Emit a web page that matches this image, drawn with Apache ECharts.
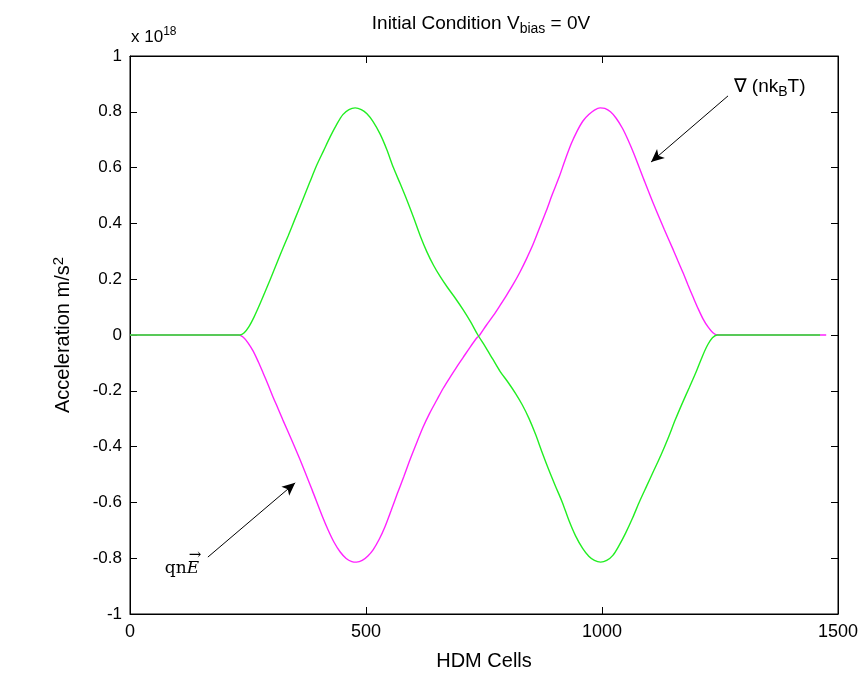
<!DOCTYPE html>
<html>
<head>
<meta charset="utf-8">
<script src="https://cdn.jsdelivr.net/npm/echarts@6/dist/echarts.min.js"></script>
<style>
  html, body { margin: 0; padding: 0; background: #ffffff; }
  #chart { width: 868px; height: 677px; }
</style>
</head>
<body>
<div id="chart"></div>
<script>
// Electric-field term qnE along the device (units of 1e18 m/s^2)
const fieldTerm = [
  [0,0],[100,0],[200,0],[233,0],[242,0.008],[252,0.03],[263,0.065],[275,0.11],
  [290,0.17],[305,0.232],[320,0.295],[335,0.355],[350,0.418],[365,0.48],[381,0.548],
  [396,0.61],[410,0.66],[424,0.71],[438,0.755],[451,0.79],[464,0.808],[477,0.814],
  [490,0.808],[502,0.793],[515,0.765],[530,0.72],[544,0.665],[558,0.6],[573,0.54],
  [587,0.482],[601,0.42],[615,0.355],[629,0.298],[643,0.25],[657,0.21],[672,0.172],
  [690,0.13],[706,0.09],[722,0.046],[737,0],
  [752,-0.04],[768,-0.085],[784,-0.13],[802,-0.172],[817,-0.21],[831,-0.25],
  [845,-0.298],[859,-0.355],[873,-0.42],[887,-0.482],[901,-0.54],[916,-0.6],
  [930,-0.665],[944,-0.72],[959,-0.765],[972,-0.793],[984,-0.808],[997,-0.814],
  [1010,-0.808],[1023,-0.79],[1036,-0.755],[1050,-0.71],[1065,-0.655],[1080,-0.595],
  [1095,-0.54],[1110,-0.485],[1125,-0.43],[1140,-0.37],[1155,-0.305],[1170,-0.245],
  [1185,-0.188],[1200,-0.13],[1213,-0.075],[1224,-0.035],[1234,-0.01],[1244,0],
  [1300,0],[1400,0],[1462,0]
];

// Pressure-gradient term grad(n kB T)
const pressureTerm = [
  [0,0],[100,0],[200,0],[230,0],[240,-0.008],[250,-0.028],[261,-0.058],[272,-0.097],
  [282,-0.136],[293,-0.18],[303,-0.222],[314,-0.265],[324,-0.305],[343,-0.378],
  [364,-0.462],[386,-0.556],[407,-0.648],[420,-0.7],[432,-0.742],[445,-0.777],
  [458,-0.801],[470,-0.812],[480,-0.814],[492,-0.808],[504,-0.792],[515,-0.77],
  [528,-0.732],[540,-0.688],[553,-0.63],[566,-0.57],[580,-0.508],[593,-0.448],
  [607,-0.388],[621,-0.33],[635,-0.28],[650,-0.233],[664,-0.19],[678,-0.152],
  [692,-0.115],[706,-0.08],[720,-0.045],[735,-0.01],[741,0],
  [755,0.035],[770,0.07],[784,0.106],[798,0.143],[812,0.182],[826,0.225],[840,0.273],
  [854,0.325],[868,0.385],[882,0.445],[895,0.505],[909,0.565],[922,0.628],[935,0.686],
  [947,0.73],[960,0.768],[972,0.79],[984,0.806],[996,0.814],[1006,0.812],[1018,0.8],
  [1030,0.777],[1043,0.742],[1055,0.7],[1068,0.648],[1089,0.556],[1111,0.462],
  [1132,0.378],[1151,0.305],[1161,0.265],[1172,0.222],[1182,0.18],[1193,0.136],
  [1203,0.097],[1214,0.058],[1225,0.028],[1235,0.008],[1244,0],
  [1300,0],[1400,0],[1475,0]
];

const xTicks = [0, 500, 1000, 1500];
const yTicks = [-1, -0.8, -0.6, -0.4, -0.2, 0, 0.2, 0.4, 0.6, 0.8, 1];

// Annotation arrows, in data coordinates: [from, to]
const pressureArrow = [[1267, 0.857], [1104, 0.62]];
const fieldArrow = [[165, -0.796], [350, -0.53]];

const FONT = '"Liberation Sans", Arial, sans-serif';
const SERIF = '"DejaVu Serif", "Liberation Serif", serif';
const chart = echarts.init(document.getElementById('chart'), null, { renderer: 'canvas' });

const fmtY = v => String(Math.round(v * 10) / 10);
const fmtX = v => String(Math.round(v));

const tickStyle = { show: true, inside: true, length: 7, lineStyle: { color: '#000', width: 1 } };
const lineStyleAxis = { show: true, onZero: false, lineStyle: { color: '#000', width: 1 } };

const arrowLine = (pts) => ({
  silent: true,
  symbol: ['none', 'arrow'],
  symbolSize: [9, 13],
  label: { show: false },
  lineStyle: { color: '#000', width: 1, type: 'solid' },
  emphasis: { disabled: true },
  data: [[{ coord: pts[0] }, { coord: pts[1] }]]
});

chart.setOption({
  backgroundColor: '#ffffff',
  animation: false,
  title: {
    text: 'Initial Condition V{sub|bias} = 0V',
    left: 476, top: 7, textAlign: 'center',
    textStyle: {
      fontFamily: FONT, fontSize: 19, fontWeight: 'normal', color: '#000',
      rich: { sub: { fontFamily: FONT, fontSize: 14, verticalAlign: 'bottom', padding: [10, 0, 0, 0], color: '#000' } }
    }
  },
  grid: {
    left: 130, right: 30, top: 56, bottom: 63,
    show: true, borderColor: '#000', borderWidth: 1, backgroundColor: '#fff'
  },
  xAxis: [{
    type: 'value', min: xTicks[0], max: xTicks[xTicks.length - 1], interval: 500,
    name: 'HDM Cells', nameLocation: 'middle', nameGap: 37,
    nameTextStyle: { fontFamily: FONT, fontSize: 20, color: '#000' },
    axisLine: lineStyleAxis,
    axisTick: tickStyle, splitLine: { show: false },
    axisLabel: { fontFamily: FONT, fontSize: 18, color: '#000', margin: 9, formatter: fmtX }
  }, {
    type: 'value', position: 'top', min: xTicks[0], max: xTicks[xTicks.length - 1], interval: 500,
    axisLine: lineStyleAxis,
    axisTick: tickStyle, axisLabel: { show: false }, splitLine: { show: false }
  }],
  yAxis: [{
    type: 'value', min: yTicks[0], max: yTicks[yTicks.length - 1], interval: 0.2,
    name: 'Acceleration m/s{sup|2}', nameLocation: 'middle', nameGap: 54, nameRotate: 90,
    nameTextStyle: {
      fontFamily: FONT, fontSize: 20, color: '#000',
      rich: { sup: { fontFamily: FONT, fontSize: 15, verticalAlign: 'top', padding: [0, 0, 10, 0], color: '#000' } }
    },
    axisLine: lineStyleAxis,
    axisTick: tickStyle, splitLine: { show: false },
    axisLabel: { fontFamily: FONT, fontSize: 17, color: '#000', margin: 8, formatter: fmtY }
  }, {
    type: 'value', position: 'right', min: yTicks[0], max: yTicks[yTicks.length - 1], interval: 0.2,
    axisLine: lineStyleAxis,
    axisTick: tickStyle, axisLabel: { show: false }, splitLine: { show: false }
  }],
  graphic: [{
    type: 'text', left: 131, top: 26,
    style: {
      text: 'x 10{sup|18}', fill: '#000',
      font: '17px ' + FONT,
      rich: { sup: { fontFamily: FONT, fontSize: 12, verticalAlign: 'top', padding: [0, 0, 11, 0], fill: '#000' } }
    }
  }],
  series: [{
    name: 'pressure', type: 'line', data: pressureTerm, showSymbol: false, smooth: 0.3,
    lineStyle: { color: '#ff22ff', width: 1.4 }, itemStyle: { color: '#ff22ff' },
    markLine: arrowLine(pressureArrow),
    markPoint: {
      silent: true, symbol: 'rect', symbolSize: 1, itemStyle: { color: 'transparent' },
      label: {
        show: true, position: 'inside', color: '#000', fontFamily: FONT, fontSize: 19,
        formatter: '\u2207 (nk{sub|B}T)',
        rich: { sub: { fontFamily: FONT, fontSize: 14, verticalAlign: 'bottom', padding: [10, 0, 0, 0], color: '#000' } }
      },
      data: [{ coord: [1355, 0.888] }]
    }
  }, {
    name: 'field', type: 'line', data: fieldTerm, showSymbol: false, smooth: 0.3,
    lineStyle: { color: '#22ee22', width: 1.4 }, itemStyle: { color: '#22ee22' },
    markLine: arrowLine(fieldArrow),
    markPoint: {
      silent: true, symbol: 'rect', symbolSize: 1, itemStyle: { color: 'transparent' },
      data: [{
        coord: [110, -0.836],
        label: {
          show: true, position: 'inside', color: '#000',
          formatter: '{n|qn}{e|E}',
          rich: {
            n: { fontFamily: SERIF, fontSize: 17, color: '#000' },
            e: { fontFamily: SERIF, fontSize: 17, fontStyle: 'italic', color: '#000' }
          }
        }
      }, {
        coord: [110, -0.836],
        label: {
          show: true, position: 'inside', color: '#000', offset: [13, -13],
          formatter: '\u2192', fontFamily: SERIF, fontSize: 15
        }
      }]
    }
  }]
});
</script>
</body>
</html>
